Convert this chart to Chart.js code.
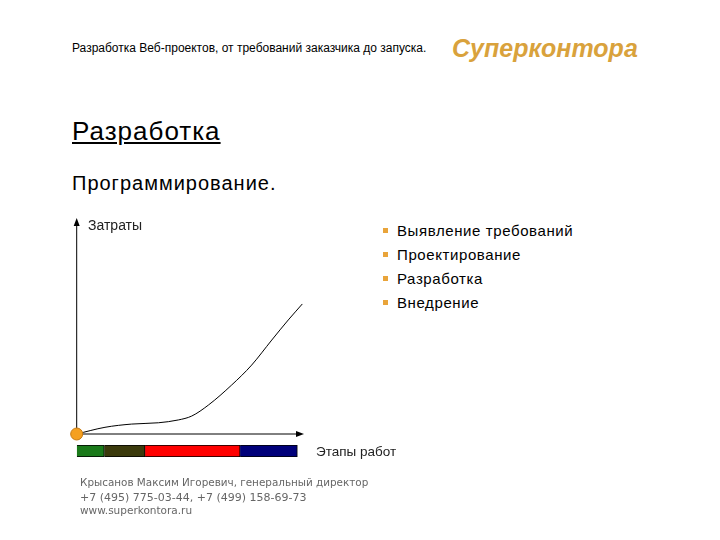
<!DOCTYPE html>
<html>
<head>
<meta charset="utf-8">
<script src="https://cdn.jsdelivr.net/npm/chart.js@4"></script>
<style>
  html, body { margin: 0; padding: 0; background: #fff; }
  body { width: 720px; height: 540px; position: relative; overflow: hidden; font-family: "Liberation Sans", Arial, sans-serif; color: #000; }
  .abs { position: absolute; white-space: nowrap; }
  #header { left: 72px; top: 41px; font-size: 12px; }
  #logo { left: 452px; top: 34px; font-size: 25px; font-weight: bold; font-style: italic; color: #d9a23c; }
  #title { left: 72px; top: 116px; font-size: 26px; letter-spacing: 1px; text-decoration: underline; }
  #subtitle { left: 72px; top: 172px; font-size: 20px; letter-spacing: 1px; }
  #ylabel { left: 88px; top: 217px; font-size: 14px; color: #222; }
  #xlabel { left: 316px; top: 444px; font-size: 13.5px; color: #222; }
  #stages { left: 380px; top: 222px; font-size: 15px; letter-spacing: 0.6px; margin: 0; padding: 0; list-style: none; }
  #stages li { height: 24px; position: relative; padding-left: 17px; }
  #stages li::before { content: ""; position: absolute; left: 3px; top: 6px; width: 5px; height: 5px; background: #e9a43a; }
  .foot { font-family: "DejaVu Sans", Verdana, sans-serif; color: #666; left: 80px; }
  #f1 { top: 476px; font-size: 10.4px; }
  #f2 { top: 491px; font-size: 11px; }
  #f3 { top: 504px; font-size: 10.5px; }
  #mainWrap { left: 50px; top: 200px; width: 270px; height: 250px; }
  #barWrap { left: 70px; top: 440px; width: 240px; height: 22px; }
</style>
</head>
<body>
<div class="abs" id="header">Разработка Веб-проектов, от требований заказчика до запуска.</div>
<div class="abs" id="logo">Суперконтора</div>
<div class="abs" id="title">Разработка</div>
<div class="abs" id="subtitle">Программирование.</div>

<div class="abs" id="mainWrap"><canvas id="costChart" width="270" height="250"></canvas></div>
<div class="abs" id="barWrap"><canvas id="stageChart" width="240" height="22"></canvas></div>

<div class="abs" id="ylabel">Затраты</div>
<div class="abs" id="xlabel">Этапы работ</div>

<ul class="abs" id="stages"></ul>

<div class="abs foot" id="f1">Крысанов Максим Игоревич, генеральный директор</div>
<div class="abs foot" id="f2">+7 (495) 775-03-44, +7 (499) 158-69-73</div>
<div class="abs foot" id="f3">www.superkontora.ru</div>

<script>
// curve: cost vs. project stages
const workX = [0, 1.25, 2.43, 3.61, 4.49, 5.08, 5.82, 6.85, 7.73, 8.62, 9.35, 9.97];
const costY = [0, 0.31, 0.46, 0.52, 0.65, 0.83, 1.34, 2.27, 3.19, 4.35, 5.28, 6.02];

// stage bar under the x axis
const stageNames = ['Выявление требований', 'Проектирование', 'Разработка', 'Внедрение'];
const stageLengths = [1.22, 1.80, 4.20, 2.53];
const stageColors = ['#1a7a1a', '#3b3a0c', '#ff0000', '#00007a'];

document.addEventListener('DOMContentLoaded', () => {
    const list = document.getElementById('stages');
    stageNames.forEach(name => {
        const li = document.createElement('li');
        li.textContent = name;
        list.appendChild(li);
    });

    // axes with arrowheads
    const arrowAxes = {
        id: 'arrowAxes',
        beforeDatasetsDraw(chart) {
            const { ctx, scales: { x, y } } = chart;
            const x0 = x.getPixelForValue(0);
            const y0 = y.getPixelForValue(0);
            const top = y.getPixelForValue(10);
            const right = x.getPixelForValue(10) + 1;
            ctx.save();
            ctx.strokeStyle = '#000';
            ctx.fillStyle = '#000';
            ctx.lineWidth = 1;
            ctx.beginPath();
            ctx.moveTo(x0, y0);
            ctx.lineTo(x0, top + 4);
            ctx.moveTo(x0, y0);
            ctx.lineTo(right - 6, y0);
            ctx.stroke();
            ctx.beginPath();
            ctx.moveTo(x0, top);
            ctx.lineTo(x0 - 3, top + 8);
            ctx.lineTo(x0 + 3, top + 8);
            ctx.closePath();
            ctx.fill();
            ctx.beginPath();
            ctx.moveTo(right, y0);
            ctx.lineTo(right - 8, y0 - 3);
            ctx.lineTo(right - 8, y0 + 3);
            ctx.closePath();
            ctx.fill();
            ctx.restore();
        }
    };

    new Chart(document.getElementById('costChart').getContext('2d'), {
        type: 'scatter',
        data: {
            datasets: [
                {
                    data: [{ x: 0, y: 0 }],
                    pointRadius: 6,
                    backgroundColor: '#f5a020',
                    borderColor: '#c77a12',
                    borderWidth: 1,
                    clip: false,
                    order: 0
                },
                {
                    data: workX.map((v, i) => ({ x: v, y: costY[i] })),
                    showLine: true,
                    borderColor: '#000',
                    borderWidth: 1,
                    pointRadius: 0,
                    cubicInterpolationMode: 'monotone',
                    order: 1
                }
            ]
        },
        options: {
            responsive: false,
            animation: false,
            layout: { padding: { left: 26.7, right: 17, top: 18, bottom: 16 } },
            plugins: { legend: { display: false }, tooltip: { enabled: false } },
            scales: {
                x: { type: 'linear', min: 0, max: 10, display: false },
                y: { type: 'linear', min: 0, max: 10, display: false }
            }
        },
        plugins: [arrowAxes]
    });

    new Chart(document.getElementById('stageChart').getContext('2d'), {
        type: 'bar',
        data: {
            labels: ['stages'],
            datasets: stageNames.map((name, i) => ({
                label: name,
                data: [stageLengths[i]],
                backgroundColor: stageColors[i],
                borderColor: '#000',
                borderWidth: 1,
                barPercentage: 1,
                categoryPercentage: 1
            }))
        },
        options: {
            indexAxis: 'y',
            responsive: false,
            animation: false,
            layout: { padding: { left: 6.7, right: 7, top: 5, bottom: 5 } },
            plugins: { legend: { display: false }, tooltip: { enabled: false } },
            scales: {
                x: { stacked: true, min: 0, max: 10, display: false },
                y: { stacked: true, display: false }
            }
        }
    });
});
</script>
</body>
</html>
